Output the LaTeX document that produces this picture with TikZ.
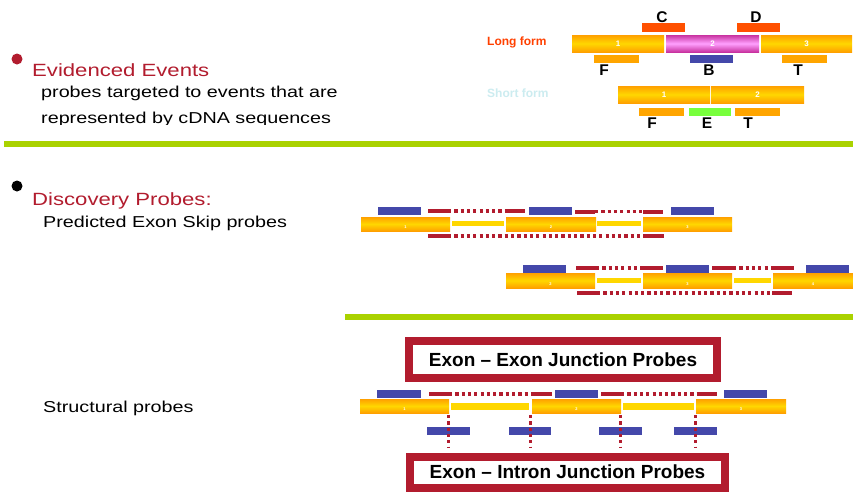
\documentclass[tikz,border=0pt]{standalone}
\usepackage{fontspec}
\setmainfont{Liberation Sans}
\usepackage{graphicx}
\definecolor{titlered}{RGB}{178,28,46}
\definecolor{longred}{RGB}{255,64,0}
\definecolor{shortcyan}{RGB}{204,236,240}
\definecolor{cdorange}{RGB}{255,80,0}
\definecolor{ftorange}{RGB}{255,165,0}
\definecolor{probeblue}{RGB}{68,72,170}
\definecolor{egreen}{RGB}{120,255,60}
\definecolor{sepgreen}{RGB}{170,210,0}
\definecolor{probered}{RGB}{178,28,46}
\definecolor{exedge}{RGB}{255,160,0}
\definecolor{exmid}{RGB}{255,215,0}
\definecolor{pinkedge}{RGB}{200,50,160}
\definecolor{pinkmid}{RGB}{255,160,255}
\definecolor{intron}{RGB}{255,215,0}
\newcommand\ExonBox[5]{\shade[exon] (#1,#2) rectangle (#3,#4);
  \node[exnum] at ({(#1+#3)/2},{(#2+#4)/2+0.5}) {#5};}
\newcommand\SmallExon[5]{\shade[exon] (#1,#2) rectangle (#3,#4);
  \node[tinynum] at ({(#1+#3)/2},{#4-4}) {#5};}
\newcommand\RedProbe[5]{\fill[probered] (#1,#5-2) rectangle (#2,#5+2);
  \draw[reddots] (#2,#5) -- (#3,#5);
  \fill[probered] (#3,#5-2) rectangle (#4,#5+2);}
\begin{document}
\begin{tikzpicture}[x=1pt,y=-1pt,
  exon/.style={top color=exedge,bottom color=exedge,middle color=exmid},
  pinkexon/.style={top color=pinkedge,bottom color=pinkedge,middle color=pinkmid},
  exnum/.style={text=white,inner sep=0,font=\bfseries\fontsize{8}{8}\selectfont},
  tinynum/.style={text=white,inner sep=0,font=\bfseries\fontsize{4}{4}\selectfont},
  lbl/.style={anchor=base,inner sep=0,font=\bfseries\fontsize{15.5}{15.5}\selectfont},
  formlbl/.style={anchor=base west,inner sep=0,font=\bfseries\fontsize{12}{12}\selectfont},
  head/.style={anchor=base west,inner sep=0,text=titlered,font=\fontsize{17.7}{20}\selectfont},
  body/.style={anchor=base west,inner sep=0,font=\fontsize{15.8}{18}\selectfont},
  reddots/.style={draw=probered,line width=3.5pt,dash pattern=on 3.2pt off 3.1pt},
  jbox/.style={draw=probered,line width=8pt,fill=white,inner sep=0,
    font=\bfseries\fontsize{19}{19}\selectfont}]
\useasboundingbox (0,0) rectangle (853,491);
\fill[white] (0,0) rectangle (853,491);

% ---- left texts ----
\fill[titlered] (17,59) circle (5.5);
\node[head] (ev) at (32,76) {\scalebox{1.25}[1]{Evidenced Events}};
\node[body] (ev1) at (41,97) {\scalebox{1.25}[1]{probes targeted to events that are}};
\begin{scope}
\clip (0,100) rectangle (853,124);
\node[body] (ev2) at (41,123) {\scalebox{1.25}[1]{represented by cDNA sequences}};
\end{scope}
\fill[black] (17,186) circle (5.5);
\node[head] (disc) at (32,205) {\scalebox{1.25}[1]{Discovery Probes:}};
\node[body] (skip) at (43,227) {\scalebox{1.25}[1]{Predicted Exon Skip probes}};
\node[body] (struct) at (43,412) {\scalebox{1.25}[1]{Structural probes}};

% ---- separators ----
\fill[sepgreen] (4,141) rectangle (853,147);
\fill[sepgreen] (345,314) rectangle (853,320);

% ---- top: long / short form ----
\node[formlbl,text=longred] (lf) at (487,45.5) {Long form};
\node[formlbl,text=shortcyan] (sf) at (487,97.5) {Short form};
\ExonBox{572}{35}{664}{52}{1}
\shade[pinkexon] (666,35) rectangle (759,52);
\node[exnum] at (712.5,44) {2};
\ExonBox{761}{35}{852}{52}{3}
\fill[cdorange] (642,23) rectangle (685,32);
\fill[cdorange] (737,23) rectangle (780,32);
\fill[ftorange] (594,55) rectangle (639,63);
\fill[probeblue] (690,55) rectangle (733,63);
\fill[ftorange] (782,55) rectangle (827,63);
\node[lbl] (C) at (662,22) {C};
\node[lbl] (D) at (756,22) {D};
\node[lbl] (F1) at (604,75) {F};
\node[lbl] (B) at (709,75) {B};
\node[lbl] (T1) at (798,75) {T};
\ExonBox{618}{86}{710}{103}{1}
\ExonBox{711}{86}{804}{103}{2}
\fill[ftorange] (639,108) rectangle (684,116);
\fill[egreen] (689,108) rectangle (731,116);
\fill[ftorange] (735,108) rectangle (780,116);
\node[lbl] (F2) at (652,128) {F};
\node[lbl] (E) at (707,128) {E};
\node[lbl] (T2) at (748,128) {T};

% ---- exon skip row 1 ----
\SmallExon{361}{217}{450}{231}{1}
\SmallExon{506}{217}{596}{231}{2}
\SmallExon{643}{217}{732}{231}{3}
\fill[intron] (452,221) rectangle (504,226);
\fill[intron] (597,221) rectangle (641,226);
\fill[probeblue] (378,207) rectangle (421,215);
\fill[probeblue] (529,207) rectangle (572,215);
\fill[probeblue] (671,207) rectangle (714,215);
\RedProbe{428}{448}{505}{525}{211}
\RedProbe{575}{595}{643}{663}{211.5}
\RedProbe{428}{448}{643}{664}{236}

% ---- exon skip row 2 ----
\SmallExon{506}{273}{595}{288}{2}
\SmallExon{643}{273}{732}{288}{3}
\SmallExon{773}{273}{853}{288}{4}
\fill[intron] (597,278) rectangle (641,283);
\fill[intron] (734,278) rectangle (771,283);
\fill[probeblue] (523,265) rectangle (566,273);
\fill[probeblue] (666,265) rectangle (709,273);
\fill[probeblue] (806,265) rectangle (849,273);
\RedProbe{576}{596}{643}{663}{268}
\RedProbe{712}{733}{773}{794}{268}
\RedProbe{577}{597}{772}{792}{293}

% ---- structural ----
\node[jbox,minimum width=308pt,minimum height=37pt] (eej) at (563,359.5) {Exon -- Exon Junction Probes};
\node[jbox,minimum width=315pt,minimum height=31pt] (eij) at (567.5,472) {Exon -- Intron Junction Probes};
\SmallExon{360}{399}{449}{413}{1}
\SmallExon{532}{399}{621}{413}{2}
\SmallExon{696}{399}{786}{413}{3}
\fill[intron] (451,403) rectangle (529,410);
\fill[intron] (623,403) rectangle (694,410);
\fill[probeblue] (377,390) rectangle (421,398);
\fill[probeblue] (555,390) rectangle (598,398);
\fill[probeblue] (724,390) rectangle (767,398);
\RedProbe{429}{449}{531}{552}{394}
\RedProbe{601}{621}{697}{717}{394}
\fill[probeblue] (427,427) rectangle (470,435);
\fill[probeblue] (509,427) rectangle (551,435);
\fill[probeblue] (599,427) rectangle (642,435);
\fill[probeblue] (674,427) rectangle (717,435);
\foreach \xx in {448,530,620,695}{\draw[reddots,line width=3pt] (\xx,415) -- (\xx,448);}
\end{tikzpicture}
\end{document}
